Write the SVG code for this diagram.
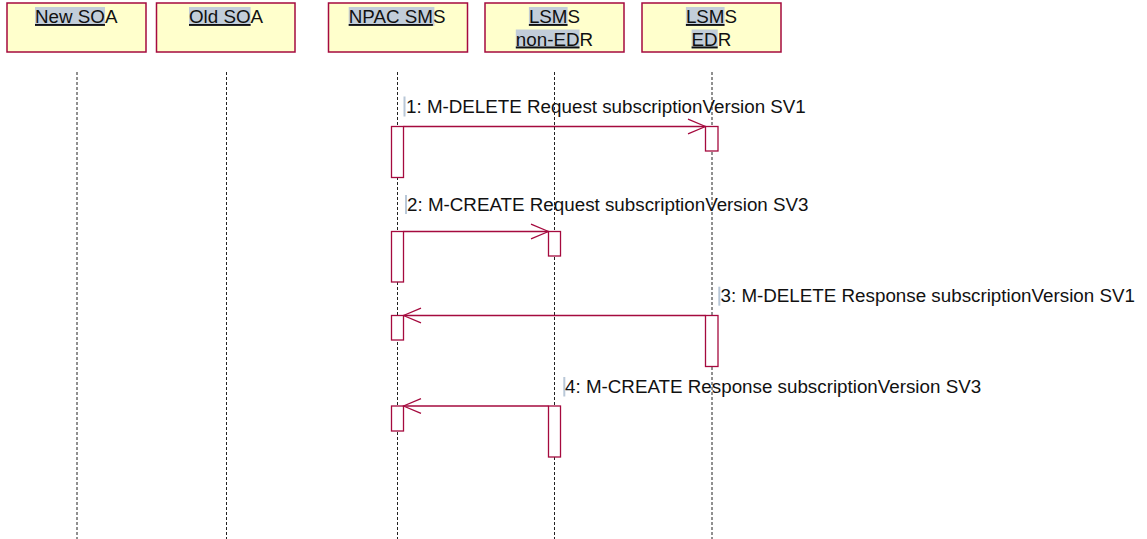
<svg xmlns="http://www.w3.org/2000/svg" width="1147" height="539" viewBox="0 0 1147 539">
<defs>
<style>
.box{fill:#FFFFCC;stroke:#A50A3E;stroke-width:1.5}
.hl{fill:#C2CDD9}
.t{font-family:"Liberation Sans",Arial,sans-serif;font-size:18.8px;fill:#111}
.u{text-decoration:underline}
.life{stroke:#222;stroke-width:1;stroke-dasharray:3,2;fill:none}
.act{fill:#fff;stroke:#A50A3E;stroke-width:1.3}
.msg{stroke:#A50A3E;stroke-width:1.3;fill:none;marker-end:url(#open)}
.cur{fill:#B9C8D8}
</style>
<marker id="open" markerUnits="userSpaceOnUse" markerWidth="20" markerHeight="18" refX="17.5" refY="7.3" orient="auto" viewBox="-1 -1 20 17">
<path d="M0,0 L17.5,7.3 L0,14.6" fill="none" stroke="#A50A3E" stroke-width="1.3"/>
</marker>
</defs>
<rect width="1147" height="539" fill="#fff"/>

<g id="lifelines">
<line class="life" x1="77" y1="72" x2="77" y2="539"/>
<line class="life" x1="226.5" y1="72" x2="226.5" y2="539"/>
<line class="life" x1="397.5" y1="72" x2="397.5" y2="539"/>
<line class="life" x1="554.5" y1="72" x2="554.5" y2="539"/>
<line class="life" x1="712" y1="72" x2="712" y2="539"/>
</g>

<g id="newSOA">
<rect class="box" x="7" y="3" width="139" height="49"/>
<rect class="hl" x="35" y="7" width="70" height="19"/>
<text class="t" x="35" y="23"><tspan class="u">New SO</tspan>A</text>
</g>
<g id="oldSOA">
<rect class="box" x="156.5" y="3" width="138.5" height="49"/>
<rect class="hl" x="189" y="7" width="61.6" height="19"/>
<text class="t" x="189" y="23"><tspan class="u">Old SO</tspan>A</text>
</g>
<g id="npacSMS">
<rect class="box" x="328.5" y="3" width="139" height="49"/>
<rect class="hl" x="348.7" y="7" width="85.7" height="19"/>
<text class="t" x="348.7" y="23"><tspan class="u">NPAC SM</tspan>S</text>
</g>
<g id="lsmsNonEDR">
<rect class="box" x="485" y="3" width="139" height="49"/>
<rect class="hl" x="528.9" y="7" width="38.7" height="19"/>
<text class="t" x="528.9" y="23"><tspan class="u">LSM</tspan>S</text>
<rect class="hl" x="515.8" y="29.5" width="63.7" height="19"/>
<text class="t" x="515.8" y="45.5"><tspan class="u">non-ED</tspan>R</text>
</g>
<g id="lsmsEDR">
<rect class="box" x="642" y="3" width="139" height="49"/>
<rect class="hl" x="685.9" y="7" width="38.7" height="19"/>
<text class="t" x="685.9" y="23"><tspan class="u">LSM</tspan>S</text>
<rect class="hl" x="691.6" y="29.5" width="26.1" height="19"/>
<text class="t" x="691.6" y="45.5"><tspan class="u">ED</tspan>R</text>
</g>

<g id="activations">
<rect class="act" x="391.5" y="126.5" width="12" height="51"/>
<rect class="act" x="391.5" y="231.5" width="12" height="50.5"/>
<rect class="act" x="391.5" y="315.5" width="12" height="24.5"/>
<rect class="act" x="391.5" y="406" width="12" height="25"/>
<rect class="act" x="705.5" y="126.5" width="12.5" height="24.5"/>
<rect class="act" x="705.5" y="315.5" width="12.5" height="51"/>
<rect class="act" x="548.5" y="231.5" width="12" height="24.5"/>
<rect class="act" x="548.5" y="406" width="12" height="51"/>
</g>

<g id="connectors">
<line class="msg" x1="403.5" y1="126.5" x2="705.5" y2="126.5"/>
<line class="msg" x1="403.5" y1="231.5" x2="548.5" y2="231.5"/>
<line class="msg" x1="705.5" y1="315.5" x2="403.5" y2="315.5"/>
<line class="msg" x1="548.5" y1="406" x2="403.5" y2="406"/>
</g>

<g id="labels">
<rect class="cur" x="403.5" y="96.5" width="2" height="20"/>
<text class="t" x="406" y="113.3">1: M-DELETE Request subscriptionVersion SV1</text>
<rect class="cur" x="405" y="195" width="2" height="19"/>
<text class="t" x="407" y="211">2: M-CREATE Request subscriptionVersion SV3</text>
<rect class="cur" x="718.3" y="286.7" width="2" height="19"/>
<text class="t" x="720.5" y="301.7">3: M-DELETE Response subscriptionVersion SV1</text>
<rect class="cur" x="563.3" y="377" width="2" height="19.5"/>
<text class="t" x="565" y="392.7">4: M-CREATE Response subscriptionVersion SV3</text>
</g>
</svg>
